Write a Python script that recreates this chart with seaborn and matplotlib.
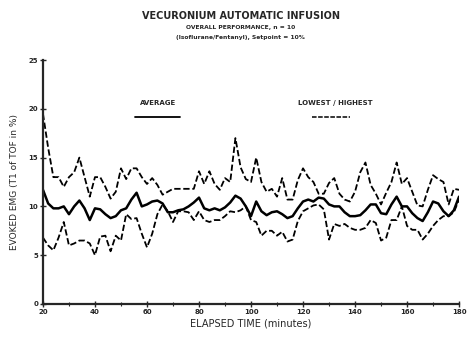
import numpy as np
import pandas as pd
import matplotlib
matplotlib.use("Agg")
import matplotlib.pyplot as plt
import seaborn as sns
from matplotlib.lines import Line2D
from matplotlib.ticker import MultipleLocator

# elapsed time in minutes (2 min sampling)
minutes = list(range(20, 181, 2))

highest = [19.5, 16.0, 13.0, 13.0, 12.0, 13.0, 13.5, 15.0, 13.0, 11.0,
           13.0, 13.0, 12.0, 10.8, 11.5, 13.9, 12.8, 13.9, 13.9, 13.0,
           12.3, 12.9, 12.2, 11.2, 11.5, 11.8, 11.8, 11.8, 11.8, 11.8,
           13.6, 12.3, 13.6, 12.3, 11.7, 12.9, 12.5, 17.0, 14.0, 12.8,
           12.5, 15.0, 12.5, 11.5, 11.8, 11.0, 12.9, 10.7, 10.7, 12.7,
           13.9, 13.0, 12.5, 11.3, 11.3, 12.4, 12.9, 11.3, 10.7, 10.5,
           11.5, 13.5, 14.5, 12.2, 11.3, 10.2, 11.4, 12.5, 14.5, 12.3,
           12.9, 11.5, 10.1, 10.0, 11.7, 13.2, 12.8, 12.5, 10.2, 11.8,
           11.7]

average = [11.7, 10.3, 9.8, 9.8, 10.0, 9.2, 10.0, 10.6, 9.8, 8.6,
           9.8, 9.7, 9.2, 8.8, 9.0, 9.6, 9.8, 10.7, 11.4, 10.0,
           10.2, 10.5, 10.6, 10.3, 9.4, 9.4, 9.6, 9.7, 10.0, 10.4,
           10.9, 9.8, 9.6, 9.8, 9.6, 9.9, 10.4, 11.1, 10.8, 10.0,
           9.0, 10.5, 9.5, 9.1, 9.4, 9.5, 9.2, 8.8, 9.0, 9.8,
           10.5, 10.7, 10.5, 10.9, 10.8, 10.2, 10.0, 10.0, 9.4, 9.0,
           9.0, 9.1, 9.6, 10.2, 10.2, 9.3, 9.2, 10.2, 11.0, 10.0,
           10.0, 9.3, 8.8, 8.5, 9.4, 10.5, 10.3, 9.5, 9.0, 9.6,
           11.0]

lowest = [6.8, 6.0, 5.5, 6.8, 8.4, 6.0, 6.2, 6.5, 6.5, 6.2,
          5.0, 6.9, 7.0, 5.4, 7.0, 6.5, 9.2, 8.7, 8.8, 7.2,
          5.8, 7.2, 9.2, 10.2, 9.5, 8.4, 9.5, 9.5, 9.4, 8.6,
          9.5, 8.6, 8.4, 8.6, 8.6, 9.0, 9.5, 9.4, 9.6, 10.0,
          8.6, 8.4, 7.0, 7.5, 7.5, 7.0, 7.4, 6.4, 6.6, 8.5,
          9.5, 9.8, 10.1, 10.2, 9.7, 6.6, 8.2, 8.0, 8.2, 7.8,
          7.6, 7.6, 7.8, 8.6, 8.3, 6.5, 6.8, 8.6, 8.6, 10.0,
          8.0, 7.6, 7.6, 6.6, 7.2, 8.0, 8.6, 9.0, 9.0, 9.4,
          10.7]

data = pd.DataFrame({"Minutes": minutes, "Highest": highest,
                     "Average": average, "Lowest": lowest})

sns.set_style("ticks")
plt.rcParams["font.family"] = ["DejaVu Sans"]

fig = plt.figure(figsize=(4.67, 3.47), dpi=100)
ax = fig.add_axes([0.092, 0.124, 0.891, 0.703])

# dashed envelope and solid average
sns.lineplot(data=data, x="Minutes", y="Highest", ax=ax, color="black",
             linewidth=1.3, linestyle=(0, (3.5, 1.5)))
sns.lineplot(data=data, x="Minutes", y="Lowest", ax=ax, color="black",
             linewidth=1.3, linestyle=(0, (3.5, 1.5)))
sns.lineplot(data=data, x="Minutes", y="Average", ax=ax, color="black",
             linewidth=1.8)

ax.set_xlim(20, 180)
ax.set_ylim(0, 25)
ax.xaxis.set_major_locator(MultipleLocator(20))
ax.xaxis.set_minor_locator(MultipleLocator(10))
ax.yaxis.set_major_locator(MultipleLocator(5))
ax.tick_params(which="major", direction="inout", length=4, width=1.0,
               labelsize=5, pad=1.5)
ax.tick_params(which="minor", direction="inout", length=2.5, width=0.8)
for lbl in ax.get_xticklabels() + ax.get_yticklabels():
    lbl.set_fontweight("bold")
sns.despine(ax=ax)
for s in ["left", "bottom"]:
    ax.spines[s].set_linewidth(1.6)

ax.set_xlabel("ELAPSED TIME (minutes)", fontsize=7, labelpad=3)
ax.set_ylabel("EVOKED EMG (T1 of TOF in %)", fontsize=6.5, labelpad=7)

# titles
fig.text(0.515, 0.955, "VECURONIUM AUTOMATIC INFUSION", ha="center",
         va="center", fontsize=7, fontweight="bold")
fig.text(0.515, 0.921, "OVERALL PERFORMANCE, n = 10", ha="center",
         va="center", fontsize=4.3, fontweight="bold")
fig.text(0.515, 0.893, "(Isoflurane/Fentanyl), Setpoint = 10%", ha="center",
         va="center", fontsize=4.3, fontweight="bold")

# hand-drawn style legend
ax.text(0.276, 0.824, "AVERAGE", transform=ax.transAxes, ha="center",
        va="center", fontsize=5, fontweight="bold")
ax.add_line(Line2D([0.221, 0.329], [0.766, 0.766], transform=ax.transAxes,
                   color="black", linewidth=1.3))
ax.text(0.702, 0.824, "LOWEST / HIGHEST", transform=ax.transAxes,
        ha="center", va="center", fontsize=5, fontweight="bold")
ax.add_line(Line2D([0.647, 0.738], [0.766, 0.766], transform=ax.transAxes,
                   color="black", linewidth=1.1, linestyle=(0, (3, 1))))

fig.savefig("out.png", dpi=100)
